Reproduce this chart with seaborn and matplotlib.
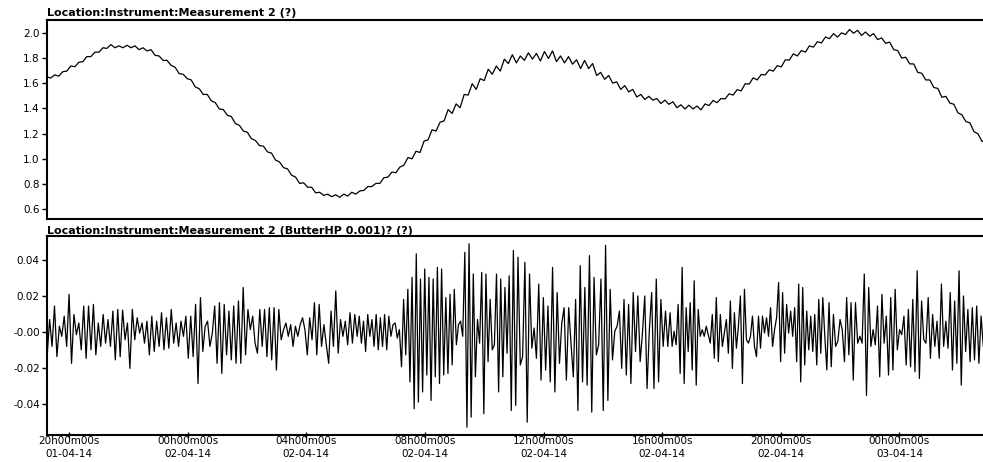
import matplotlib
matplotlib.use("Agg")
import matplotlib.dates as mdates
import matplotlib.pyplot as plt
import numpy as np
import pandas as pd
import seaborn as sns

sns.set_theme(style="white")
plt.rcParams["font.family"] = ["DejaVu Sans"]
plt.rcParams["text.color"] = "black"

# time span of the record
START = "2014-04-01 19:15"
END = "2014-04-03 02:55"

TOP_TITLE = "Location:Instrument:Measurement 2 (?)"
BOTTOM_TITLE = "Location:Instrument:Measurement 2 (ButterHP 0.001)? (?)"

# raw measurement, evenly spaced over the span
raw_values = [
    1.650, 1.640, 1.665, 1.655, 1.690, 1.695, 1.735, 1.730, 1.765, 1.770,
    1.810, 1.810, 1.845, 1.845, 1.880, 1.875, 1.905, 1.880, 1.895, 1.880,
    1.900, 1.880, 1.895, 1.865, 1.880, 1.855, 1.865, 1.820, 1.815, 1.780,
    1.780, 1.740, 1.725, 1.675, 1.670, 1.635, 1.625, 1.570, 1.555, 1.510,
    1.510, 1.460, 1.445, 1.395, 1.390, 1.345, 1.335, 1.280, 1.265, 1.220,
    1.210, 1.160, 1.145, 1.105, 1.100, 1.055, 1.045, 0.990, 0.975, 0.930,
    0.920, 0.870, 0.855, 0.805, 0.810, 0.775, 0.775, 0.730, 0.735, 0.710,
    0.720, 0.700, 0.715, 0.695, 0.720, 0.705, 0.735, 0.720, 0.745, 0.750,
    0.780, 0.780, 0.805, 0.805, 0.850, 0.855, 0.895, 0.890, 0.935, 0.950,
    1.010, 1.000, 1.060, 1.050, 1.140, 1.150, 1.230, 1.220, 1.290, 1.300,
    1.390, 1.360, 1.435, 1.405, 1.510, 1.505, 1.595, 1.550, 1.635, 1.620,
    1.710, 1.670, 1.735, 1.695, 1.790, 1.755, 1.825, 1.760, 1.815, 1.780,
    1.840, 1.790, 1.835, 1.775, 1.850, 1.795, 1.855, 1.770, 1.815, 1.760,
    1.810, 1.750, 1.785, 1.715, 1.780, 1.715, 1.755, 1.660, 1.685, 1.630,
    1.660, 1.600, 1.610, 1.550, 1.580, 1.530, 1.550, 1.490, 1.510, 1.470,
    1.495, 1.465, 1.478, 1.438, 1.465, 1.432, 1.452, 1.405, 1.428, 1.395,
    1.425, 1.395, 1.418, 1.388, 1.435, 1.422, 1.462, 1.445, 1.478, 1.475,
    1.515, 1.505, 1.548, 1.538, 1.595, 1.592, 1.642, 1.625, 1.668, 1.665,
    1.705, 1.695, 1.738, 1.728, 1.785, 1.782, 1.832, 1.815, 1.858, 1.845,
    1.895, 1.885, 1.928, 1.918, 1.965, 1.952, 1.992, 1.965, 1.998, 1.985,
    2.025, 1.995, 2.018, 1.978, 2.005, 1.972, 1.992, 1.945, 1.958, 1.915,
    1.925, 1.865, 1.858, 1.798, 1.805, 1.752, 1.752, 1.685, 1.678, 1.625,
    1.625, 1.565, 1.558, 1.488, 1.495, 1.442, 1.432, 1.365, 1.348, 1.295,
    1.285, 1.215, 1.198, 1.138, 1.155,
]

# high-pass output (units of 1e-3), turning points read left to right,
# one list per stretch of the record between the times in hp_edges
hp_edges = [
    "2014-04-01 19:16", "2014-04-02 00:26", "2014-04-02 05:43",
    "2014-04-02 10:59", "2014-04-02 16:16", "2014-04-02 21:33",
    "2014-04-03 02:54",
]
hp_part1 = [
    -12.7, 6.9, -8.0, 14.4, -13.7, 3.2, -2.4, 8.8, -8.0, 20.9, -17.4, 9.7,
    -1.5, 5.0, -9.9, 14.4, -14.6, 14.4, -9.9, 15.3, -12.7, 5.0, -8.0, 9.7,
    -6.2, 6.9, -8.0, 11.6, -15.5, 12.5, -13.7, 12.2, -4.3, 5.0, -20.2, 12.5,
    -4.3, 7.9, -0.6, 5.0, -6.2, 6.0, -12.7, 8.8, -10.8, 6.0, -8.0, 10.7,
    -9.9, 7.9, -9.0, 12.5, -6.2, 5.0, -8.0, 6.0, -2.4, 8.8, -14.6, 8.8,
    -13.7, 15.3, -28.6,
]
hp_part2 = [
    19.1, -10.8, 3.2, 6.0, -8.0, -0.6, 14.4, -17.4, 16.3, -23.0, 15.3, -12.7,
    11.6, -15.5, 14.4, -17.4, 17.2, -17.4, 24.7, -12.7, 12.5, 1.3, 8.8, -6.2,
    -11.8, 12.5, -8.0, 12.5, -13.7, 13.5, -15.5, 13.5, -21.1, 12.5, -4.3, 1.3,
    5.0, -2.4, 4.1, -8.0, 3.2, -2.4, 4.1, 7.9, 1.3, -12.7, 7.9, -4.3,
    16.3, -12.7, 15.3, -8.0, 4.1, -7.1, -17.4, 11.6, -8.0, 22.8, -11.8, 6.9,
    -2.4, 6.0, -7.1, 10.7, -6.2, 9.7,
]
hp_part3 = [
    -2.4, 8.8, -6.2, 6.0, -10.8, 9.7, -2.4, 6.9, -8.0, 9.7, -9.9, 7.9,
    -8.0, 9.7, -9.9, 8.8, -2.4, 4.1, 5.0, -3.4, 1.3, -19.3, 18.1, -12.7,
    23.7, -27.7, 30.3, -42.6, 43.4, -38.9, 29.4, -33.3, 35.0, -23.9, 30.3, -38.0,
    29.4, -24.9, 35.9, -28.6, 35.0, -23.9, 19.1, -23.0, 20.9, -18.3, 23.7, -7.1,
    4.1, 6.0, -2.4, 44.3, -52.9, 49.0, -47.3, 32.2, -24.9, 6.9, -6.2, 33.1,
    -45.4, 32.2, -16.5, 18.1, -9.9, -7.1, 32.2, -33.3, 29.4, -24.9, 24.7, -11.8,
    31.2, -43.6,
]
hp_part4 = [
    45.3, -40.8, 41.5, -18.3, -13.7, 38.7, -50.1, 32.2, -9.0, 2.2, -14.6, 26.6,
    -26.7, 19.1, -21.1, 14.4, -27.7, 35.9, -33.3, 21.9, -17.4, 5.0, 13.5, -26.7,
    13.5, -6.2, -24.9, 18.1, -43.6, 36.8, -27.7, 24.7, -29.5, 42.4, -44.5, 30.3,
    -12.7, -7.1, 29.4, -43.6, 48.1, -38.0, 23.7, -15.5, 0.4, 3.2, 11.6, -20.2,
    18.1, -23.9, 15.3, -28.6, 21.9, -10.8, 20.0, -16.5, -0.6, 20.0, -31.4, 1.3,
    21.9, -31.4, 29.4, -27.7, 18.1, -8.0, 11.6, -8.0,
]
hp_part5 = [
    10.7, -8.0, 0.4, -7.1, 15.3, -23.0, 35.9, -28.6, 13.5, -10.8, 16.3, -21.1,
    28.4, -29.5, 12.5, -2.4, 1.3, -2.4, 3.2, -1.5, -6.2, 9.7, -14.6, 19.1,
    -16.5, 9.7, -8.0, -0.6, 6.9, -11.8, 17.2, -20.2, 10.7, -9.0, 3.2, 20.0,
    -28.6, 23.7, -4.3, -6.2, -2.4, 8.8, -8.0, -13.7, 8.8, -9.0, 8.8, -0.6,
    7.9, -2.4, 13.5, -8.0, 1.3, 7.9, 27.5, -16.5, 21.9, -11.8, 15.3, -0.6,
    11.6, -2.4, 13.5, -16.5, 26.6, -27.7, 24.7, -18.3, 11.6, -9.9, 8.8, -10.8,
    9.7, -18.3, 18.1, -11.8, 19.1, -2.4,
]
hp_part6 = [
    -21.1, 16.3, -19.3, 9.7, -8.0, -5.2, 6.9, 1.3, -16.5, 19.1, -12.7, 16.3,
    -26.7, 16.3, -6.2, -2.4, -6.2, 32.2, -35.2, 24.7, -8.0, 1.3, -7.1, 14.4,
    -24.9, 20.9, -6.2, 8.8, -23.9, 19.1, -21.1, 23.7, -9.9, 1.3, -1.5, 8.8,
    -18.3, 12.5, -19.3, 18.1, -22.1, 34.0, -25.8, 17.2, -4.3, -6.2, 19.1, -14.6,
    9.7, -8.0, 6.0, -14.6, 26.6, -8.0, 6.0, -9.0, 21.9, -21.1, 17.2, -17.4,
    34.0, -29.5, 20.0, -10.8, 12.5, -16.5, 13.5, -15.5, 14.4, -17.4, 8.8, -8.0,
    14.4,
]
hp_parts = [hp_part1, hp_part2, hp_part3, hp_part4, hp_part5, hp_part6]

tick_times = pd.date_range("2014-04-01 20:00", periods=8, freq="4h")
top_ticks = [0.6, 0.8, 1.0, 1.2, 1.4, 1.6, 1.8, 2.0]
bottom_ticks = [-0.04, -0.02, 0.0, 0.02, 0.04]
bottom_tick_labels = ["-0.04", "-0.02", "-0.00", "0.02", "0.04"]

top_df = pd.DataFrame({
    "time": pd.date_range(START, END, periods=len(raw_values)),
    "value": raw_values,
})

pieces = []
for i, part in enumerate(hp_parts):
    last = i == len(hp_parts) - 1
    times = pd.date_range(hp_edges[i], hp_edges[i + 1], periods=len(part) + (0 if last else 1))
    times = times if last else times[:-1]
    pieces.append(pd.DataFrame({"time": times, "value": np.array(part) * 1e-3}))
bottom_df = pd.concat(pieces, ignore_index=True)

W, H = 983, 462
fig = plt.figure(figsize=(W / 100, H / 100), dpi=100)
left = 46.7 / W
width = (986 - 46.7) / W
ax_top = fig.add_axes([left, 1 - 219 / H, width, 199 / H])
ax_bot = fig.add_axes([left, 1 - 435 / H, width, 199 / H], sharex=ax_top)

sns.lineplot(data=top_df, x="time", y="value", ax=ax_top, color="black", linewidth=0.9)
sns.lineplot(data=bottom_df, x="time", y="value", ax=ax_bot, color="black", linewidth=0.9)

ax_top.set_xlim(pd.Timestamp(START), pd.Timestamp(END))
ax_top.set_ylim(0.523, 2.10)
ax_bot.set_ylim(-0.0572, 0.0533)

ax_top.set_yticks(top_ticks, [f"{t:.1f}" for t in top_ticks])
ax_bot.set_yticks(bottom_ticks, bottom_tick_labels)
ax_bot.set_xticks(tick_times)
ax_bot.xaxis.set_major_formatter(mdates.DateFormatter("%Hh%Mm%Ss\n%d-%m-%y"))

for ax, title, pad in [(ax_top, TOP_TITLE, 3), (ax_bot, BOTTOM_TITLE, 1.5)]:
    ax.set_xlabel("")
    ax.set_ylabel("")
    ax.set_title(title, loc="left", fontsize=8, fontweight="bold", pad=pad, color="black")
    for spine in ax.spines.values():
        spine.set_color("black")
        spine.set_linewidth(1.5)
    ax.tick_params(axis="y", left=True, direction="out", length=3.5, width=1,
                   pad=1.5, labelsize=7.5, colors="black")

ax_top.tick_params(axis="x", bottom=False, labelbottom=False)
ax_bot.tick_params(axis="x", bottom=True, direction="inout", length=5, width=1,
                   pad=-1.5, labelsize=7.5, colors="black")
for lbl in ax_bot.get_xticklabels():
    lbl.set_linespacing(1.35)

fig.savefig("out.png", dpi=100)
